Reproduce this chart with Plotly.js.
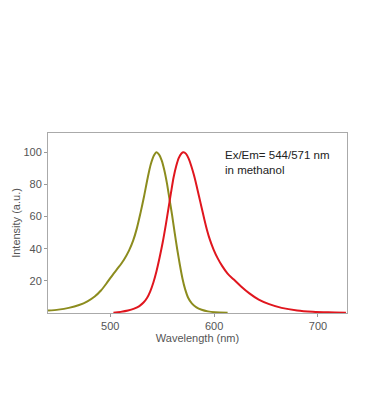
<!DOCTYPE html>
<html><head><meta charset="utf-8">
<script src="https://cdn.plot.ly/plotly-3.0.1.min.js"></script>
<style>body{margin:0;background:#fff}#c{width:368px;height:419px}</style>
</head><body><div id="c"></div>
<script>
const exWavelength = [440,450,460,470,478,485,491,497,503,508,513,518,522,525.5,529,532.5,536,539,542,544.5,547,549.5,552,554.5,557,559.5,562,564.5,567,569.5,572,575,578.5,583,588,594,601,613];
const exIntensity  = [1.5,2.1,3.2,5.0,7.3,10.3,14,19,24.4,28.5,33,38.8,45,52.5,62,72.5,84,92.5,98,100,98.5,95,89,81,71,61,50,39.5,30,21.5,15,9.5,6,3.5,2,1.0,0.5,0.2];
const emWavelength = [503,510,517,523,528,532,535.5,538.5,541.5,544.5,547.5,550.5,553.5,556,558.5,561,563.5,566,568.5,570.5,573,575.5,578,580.5,583,585.5,588,590.5,593,596,599.5,603.5,608,613,619,626,634,643,653,665,680,695,710,727];
const emIntensity  = [0.2,0.7,1.5,2.7,4.3,6.5,9.5,13.5,19,26,34.5,44,55,65,75,84.5,91.5,96.5,99.3,100,99,96,91.5,86,79.5,72.5,65.5,58.5,52,45.5,39.5,34,29,24.5,20.8,16.5,12.2,8.3,5.5,3.2,1.6,0.8,0.4,0.2];
const xTicks = [500,600,700];
const yTicks = [20,40,60,80,100];
const labelText = 'Ex/Em= 544/571 nm<br>in methanol';

const traces = [
  {x: exWavelength, y: exIntensity, mode:'lines', line:{color:'#8c8c1e', width:2, shape:'spline', smoothing:0.8}, hoverinfo:'skip'},
  {x: emWavelength, y: emIntensity, mode:'lines', line:{color:'#e0161e', width:2, shape:'spline', smoothing:0.8}, hoverinfo:'skip'}
];
const axisFont = {family:'Liberation Sans, Arial, sans-serif', size:11, color:'#555'};
const layout = {
  width:368, height:419,
  margin:{l:48, r:21, t:133, b:106},
  paper_bgcolor:'#fff', plot_bgcolor:'#fff',
  showlegend:false,
  xaxis:{range:[440,728], tickvals:xTicks, ticks:'outside', ticklen:3, tickcolor:'#999',
    showline:true, linecolor:'#aaa', mirror:true, showgrid:false, zeroline:false,
    tickfont:axisFont, title:{text:'Wavelength (nm)', font:axisFont, standoff:2}},
  yaxis:{range:[0,112], tickvals:yTicks, ticks:'outside', ticklen:3, tickcolor:'#999',
    showline:true, linecolor:'#aaa', mirror:true, showgrid:false, zeroline:false,
    tickfont:axisFont, title:{text:'Intensity (a.u.)', font:axisFont, standoff:0}},
  annotations:[{xref:'paper', yref:'paper', x:0.585, y:0.92, xanchor:'left', yanchor:'top',
    align:'left', showarrow:false, text:labelText,
    font:{family:'Liberation Sans, Arial, sans-serif', size:11.5, color:'#222'}}]
};
Plotly.newPlot('c', traces, layout, {displayModeBar:false, staticPlot:true});
</script></body></html>
